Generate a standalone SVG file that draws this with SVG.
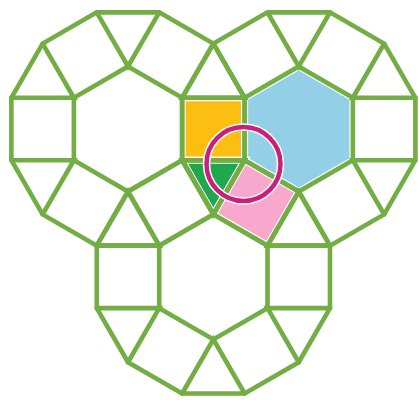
<svg xmlns="http://www.w3.org/2000/svg" xmlns:xlink="http://www.w3.org/1999/xlink" width="419" height="400" viewBox="0 0 419 400">
  <style>
    .fill { stroke: #ffffff; stroke-width: 7; stroke-linejoin: miter; }
    .ring { fill: none; stroke: #73ae45; stroke-width: 4.6; stroke-linejoin: miter; stroke-linecap: round; }
    .mark-halo { fill: none; stroke: #ffffff; stroke-width: 7.5; }
    .mark { fill: none; stroke: #c8207c; stroke-width: 4.5; }
  </style>
  <defs>
    <g id="ringShape">
      <polygon points="0,-62.5 54.13,-31.25 54.13,31.25 0,62.5 -54.13,31.25 -54.13,-31.25"/>
      <polygon points="-31.25,-116.63 31.25,-116.63 85.38,-85.38 116.63,-31.25 116.63,31.25 85.38,85.38 31.25,116.63 -31.25,116.63 -85.38,85.38 -116.63,31.25 -116.63,-31.25 -85.38,-85.38"/>
      <path d="M-31.25,-116.63 L0,-62.5 L31.25,-116.63 M85.38,-85.38 L54.13,-31.25 L116.63,-31.25 M116.63,31.25 L54.13,31.25 L85.38,85.38 M31.25,116.63 L0,62.5 L-31.25,116.63 M-85.38,85.38 L-54.13,31.25 L-116.63,31.25 M-116.63,-31.25 L-54.13,-31.25 L-85.38,-85.38"/>
    </g>
  </defs>
  <rect width="419" height="400" fill="#ffffff"/>
  <g id="fills">
    <polygon id="orange-square" class="fill" fill="#fdbe12" points="182.13,97.75 244.63,97.75 244.63,160.25 182.13,160.25"/>
    <polygon id="blue-hexagon" class="fill" fill="#93d0e7" points="298.75,66.5 352.88,97.75 352.88,160.25 298.75,191.5 244.62,160.25 244.62,97.75"/>
    <polygon id="green-triangle" class="fill" fill="#1fa84e" points="182.13,160.25 244.63,160.25 213.38,214.38"/>
    <polygon id="pink-square" class="fill" fill="#f7a8cc" points="244.62,160.25 298.75,191.5 267.5,245.63 213.37,214.38"/>
  </g>
  <g id="rings" class="ring">
    <use id="ring-left" xlink:href="#ringShape" href="#ringShape" transform="translate(128,129)"/>
    <use id="ring-right" xlink:href="#ringShape" href="#ringShape" transform="translate(298.75,129)"/>
    <use id="ring-bottom" xlink:href="#ringShape" href="#ringShape" transform="translate(213.38,276.87)"/>
  </g>
  <g id="marker-circle">
    <circle class="mark-halo" cx="243.5" cy="164" r="37"/>
    <circle class="mark" cx="243.5" cy="164" r="37"/>
  </g>
</svg>
